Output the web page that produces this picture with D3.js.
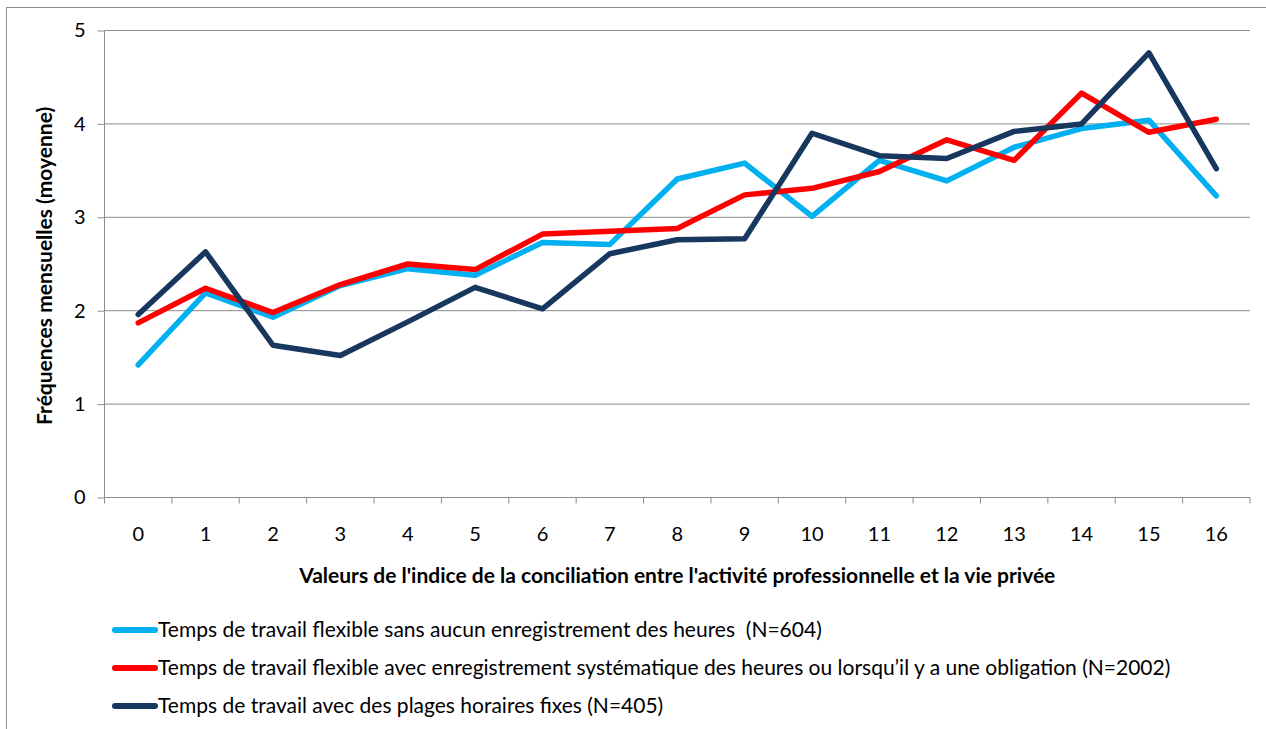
<!DOCTYPE html>
<html lang="fr">
<head>
    <meta charset="utf-8">
    <title>Fréquences mensuelles selon l'indice de conciliation</title>
    <script type="text/javascript" src="https://d3js.org/d3.v7.min.js"></script>
    <style type="text/css">
        body { margin: 0; background: #fff; }
        svg { font-family: Lato, "Open Sans", sans-serif; }
        text { white-space: pre; }
    </style>
</head>
<body>
<script type="text/javascript">

    // index values 0..16
    var categories = ["0","1","2","3","4","5","6","7","8","9","10","11","12","13","14","15","16"];

    var sansEnregistrement = [1.42, 2.19, 1.93, 2.27, 2.45, 2.38, 2.73, 2.71, 3.41, 3.58, 3.01, 3.61, 3.39, 3.75, 3.95, 4.04, 3.23];
    var avecEnregistrement = [1.87, 2.24, 1.98, 2.28, 2.50, 2.44, 2.82, 2.85, 2.88, 3.24, 3.31, 3.49, 3.83, 3.61, 4.33, 3.91, 4.05];
    var plagesFixes        = [1.96, 2.63, 1.63, 1.52, 1.88, 2.25, 2.02, 2.61, 2.76, 2.77, 3.90, 3.66, 3.63, 3.92, 4.00, 4.76, 3.52];

    var seriesNames = [
        "Temps de travail flexible sans aucun enregistrement des heures  (N=604)",
        "Temps de travail flexible avec enregistrement systématique des heures ou lorsqu\u2019il y a une obligation (N=2002)",
        "Temps de travail avec des plages horaires fixes (N=405)"
    ];
    var seriesColors = ["#00b0f0", "#ff0000", "#17375e"];
    var yTicks = [0, 1, 2, 3, 4, 5];

    var series = [sansEnregistrement, avecEnregistrement, plagesFixes].map(function(v, i) {
        return { name: seriesNames[i], color: seriesColors[i], values: v };
    });

    var width = 1266, height = 729;
    var margin = { top: 30.5, right: 16, bottom: 231.5, left: 104.5 };

    var svg = d3.select("body").append("svg")
        .attr("width", width)
        .attr("height", height);

    // outer chart frame (runs off the right and bottom of the picture)
    svg.append("rect")
        .attr("x", 6.5).attr("y", 7.5)
        .attr("width", width + 20).attr("height", height + 20)
        .attr("fill", "none")
        .attr("stroke", "#8c8c8c");

    var x = d3.scaleBand()
        .domain(categories)
        .range([margin.left, width - margin.right]);

    var y = d3.scaleLinear()
        .domain([0, 5])
        .range([height - margin.bottom, margin.top]);

    // gridlines
    svg.append("g")
        .selectAll("line")
        .data(yTicks.filter(function(d) { return d > 0; }))
        .enter().append("line")
        .attr("x1", x.range()[0]).attr("x2", x.range()[1])
        .attr("y1", function(d) { return y(d); })
        .attr("y2", function(d) { return y(d); })
        .attr("stroke", "#8c8c8c");

    // y axis
    var yAxis = svg.append("g")
        .attr("transform", "translate(" + x.range()[0] + ",0)")
        .call(d3.axisLeft(y).tickValues(yTicks).tickFormat(d3.format("d")).tickSize(7).tickPadding(12));
    yAxis.selectAll("line, path").attr("stroke", "#8c8c8c");
    yAxis.select(".domain").attr("d", "M0," + y(0) + "V" + y(5));
    yAxis.selectAll("text")
        .attr("font-size", "20px")
        .attr("font-family", "Lato, sans-serif")
        .attr("fill", "#000");

    // x axis, ticks between categories
    var xAxis = svg.append("g")
        .attr("transform", "translate(0," + y(0) + ")");
    xAxis.append("line")
        .attr("x1", x.range()[0]).attr("x2", x.range()[1])
        .attr("stroke", "#8c8c8c");
    xAxis.selectAll(".tk")
        .data(categories.concat(["end"]))
        .enter().append("line")
        .attr("class", "tk")
        .attr("x1", function(d, i) { return x.range()[0] + i * x.step(); })
        .attr("x2", function(d, i) { return x.range()[0] + i * x.step(); })
        .attr("y1", 0).attr("y2", 6)
        .attr("stroke", "#8c8c8c");
    xAxis.selectAll(".lbl")
        .data(categories)
        .enter().append("text")
        .attr("class", "lbl")
        .attr("x", function(d) { return x(d) + x.bandwidth() / 2; })
        .attr("y", 43)
        .attr("text-anchor", "middle")
        .attr("font-size", "20px")
        .text(function(d) { return d; });

    // axis titles
    svg.append("text")
        .attr("x", (x.range()[0] + x.range()[1]) / 2)
        .attr("y", 583)
        .attr("text-anchor", "middle")
        .attr("font-size", "21px")
        .attr("font-weight", "bold")
        .text("Valeurs de l'indice de la conciliation entre l'activité professionnelle et la vie privée");

    svg.append("text")
        .attr("transform", "translate(52," + y(2.48) + ") rotate(-90)")
        .attr("text-anchor", "middle")
        .attr("font-size", "21px")
        .attr("font-weight", "bold")
        .text("Fréquences mensuelles (moyenne)");

    // lines
    var line = d3.line()
        .x(function(d, i) { return x(categories[i]) + x.bandwidth() / 2; })
        .y(function(d) { return y(d); });

    svg.append("g")
        .selectAll("path")
        .data(series)
        .enter().append("path")
        .attr("d", function(d) { return line(d.values); })
        .attr("fill", "none")
        .attr("stroke", function(d) { return d.color; })
        .attr("stroke-width", 5.5)
        .attr("stroke-linejoin", "round")
        .attr("stroke-linecap", "round");

    // legend
    var legend = svg.append("g")
        .selectAll("g")
        .data(series)
        .enter().append("g")
        .attr("transform", function(d, i) { return "translate(115," + (630 + i * 38) + ")"; });

    legend.append("line")
        .attr("x1", 0).attr("x2", 40)
        .attr("stroke", function(d) { return d.color; })
        .attr("stroke-width", 6)
        .attr("stroke-linecap", "round");

    legend.append("text")
        .attr("x", 43)
        .attr("dy", "0.35em")
        .attr("font-size", "21px")
        .text(function(d) { return d.name; });

</script>
</body>
</html>
